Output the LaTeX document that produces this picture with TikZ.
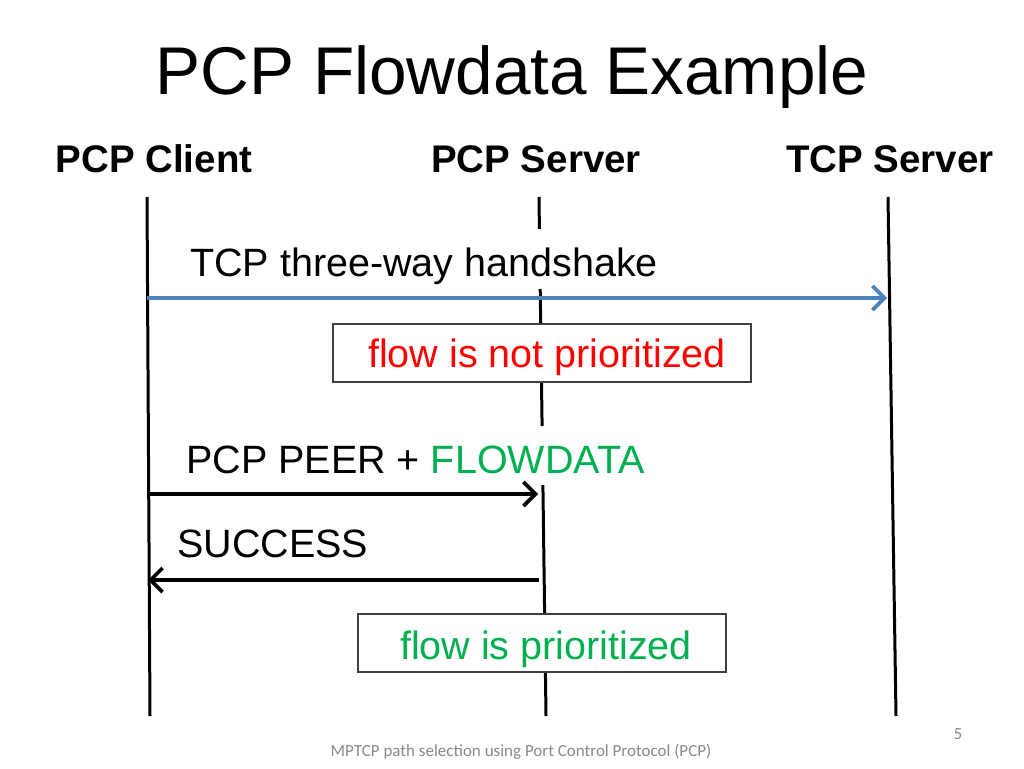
\documentclass[tikz,border=0pt]{standalone}
\usepackage{fontspec}
\setmainfont{Liberation Sans}
\newfontfamily\footfont{Carlito}
\usetikzlibrary{arrows.meta}
\definecolor{pblue}{HTML}{4F81BD}
\definecolor{pgreen}{HTML}{00B050}
\definecolor{pred}{HTML}{FF0000}
\definecolor{pgray}{HTML}{898989}
\begin{document}
\begin{tikzpicture}[x=1pt,y=-1pt,
  lifeline/.style={line width=3pt, black},
  msgarrow/.style={line width=3.6pt, -{Straight Barb[length=12pt,width=24pt]}},
  head/.style={anchor=base, font=\bfseries\fontsize{38.5}{44}\selectfont},
  lbl/.style={anchor=base west, font=\fontsize{39.5}{46}\selectfont, inner sep=0pt},
  notebox/.style={draw=black!75, line width=1.5pt, fill=white, minimum width=#1, minimum height=58pt, inner sep=0pt},
  boxtext/.style={anchor=base, font=\fontsize{39.5}{46}\selectfont, inner sep=0pt}
]
\useasboundingbox (0,0) rectangle (1024,768);

% title and headers
\node[anchor=base, font=\fontsize{67.5}{78}\selectfont] (title) at (512,94) {PCP Flowdata Example};
\node[head] (hclient) at (154,172) {PCP Client};
\node[head] (hpcp) at (536,172) {PCP Server};
\node[head] (htcp) at (890,172) {TCP Server};

% lifeline end points
\coordinate (cT) at (147,197);
\coordinate (cB) at (150,716);
\coordinate (tT) at (888,197);
\coordinate (tB) at (896,716);
\coordinate (s1) at (539,197);
\coordinate (s2) at (539.4,229);
\coordinate (s3) at (540.2,289);
\coordinate (s4) at (542.1,426);
\coordinate (s5) at (542.9,485);
\coordinate (s6) at (546,716);

\draw[lifeline] (cT) -- (cB);
\draw[lifeline] (tT) -- (tB);
\draw[lifeline] (s1) -- (s2);
\draw[lifeline] (s3) -- (s4);
\draw[lifeline] (s5) -- (s6);

% note boxes
\node[notebox=418pt] (box1) at (542,353) {};
\node[boxtext, text=pred] (t1) at (547,367) {flow is not prioritized};
\node[notebox=368pt] (box2) at (542,643) {};
\node[boxtext, text=pgreen] (t2) at (546,659) {flow is prioritized};

% message labels
\node[lbl] (l1) at (190,276) {TCP three-way handshake};
\node[lbl] (l2) at (186,473) {PCP PEER + \textcolor{pgreen}{FLOWDATA}};
\node[lbl] (l3) at (177,557) {SUCCESS};

% message arrows
\coordinate (a1s) at (147,298);
\coordinate (a1e) at (887,298);
\coordinate (a2s) at (148,494);
\coordinate (a2e) at (538,494);
\coordinate (a3s) at (539,580);
\coordinate (a3e) at (148,580);
\draw[msgarrow, draw=pblue] (a1s) -- (a1e);
\draw[msgarrow] (a2s) -- (a2e);
\draw[msgarrow] (a3s) -- (a3e);

% footer
\node[anchor=base, font=\footfont\fontsize{17}{20}\selectfont, text=pgray] (foot) at (521,756) {MPTCP path selection using Port Control Protocol (PCP)};
\node[anchor=base, font=\footfont\fontsize{17}{20}\selectfont, text=pgray] (pnum) at (958,739) {5};
\end{tikzpicture}
\end{document}
